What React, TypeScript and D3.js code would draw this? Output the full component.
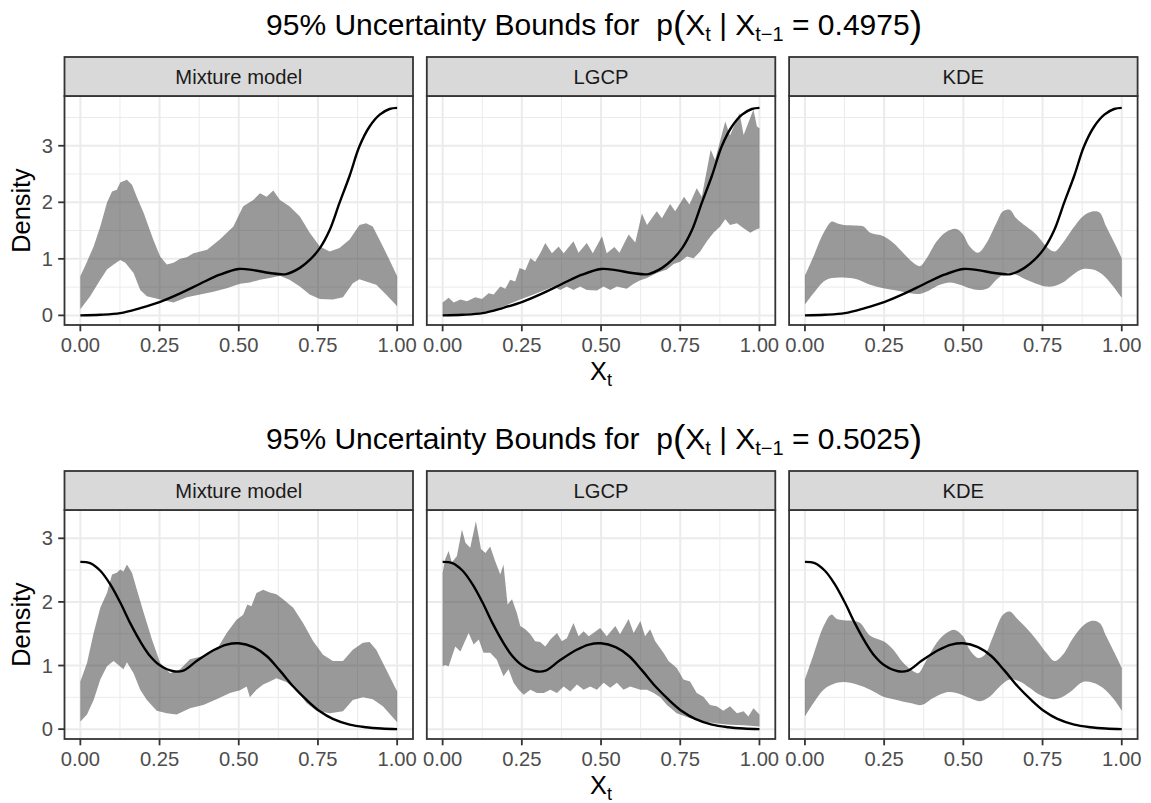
import React from 'react';
import * as d3 from 'd3';

type Pt = [number, number];

// ---------- labels & ticks ----------
const PANEL_NAMES = ['Mixture model', 'LGCP', 'KDE'];
const CONDITION_VALUES = ['0.4975', '0.5025'];
const X_TICKS = [0, 0.25, 0.5, 0.75, 1];
const X_TICK_LABELS = ['0.00', '0.25', '0.50', '0.75', '1.00'];
const X_MINOR = [0.125, 0.375, 0.625, 0.875];
const Y_TICKS = [0, 1, 2, 3];
const Y_TICK_LABELS = ['0', '1', '2', '3'];
const Y_MINOR = [0.5, 1.5, 2.5, 3.5];

// ---------- true conditional densities ----------
const TRUE_4975: Pt[] = [
  [0, 0], [0.063, 0.01], [0.126, 0.04], [0.189, 0.13], [0.252, 0.24], [0.315, 0.39],
  [0.378, 0.56], [0.44, 0.72], [0.5, 0.82], [0.546, 0.8], [0.598, 0.75], [0.65, 0.73],
  [0.693, 0.84], [0.724, 0.98], [0.756, 1.19], [0.787, 1.51], [0.818, 1.99], [0.85, 2.47],
  [0.881, 2.99], [0.913, 3.34], [0.945, 3.55], [0.976, 3.65], [1, 3.67],
];
const TRUE_5025: Pt[] = [
  [0, 2.63], [0.031, 2.61], [0.063, 2.49], [0.094, 2.28], [0.126, 1.99], [0.157, 1.67],
  [0.189, 1.38], [0.22, 1.15], [0.252, 1.0], [0.294, 0.91], [0.325, 0.92], [0.367, 1.07],
  [0.42, 1.24], [0.462, 1.33], [0.5, 1.35], [0.546, 1.29], [0.588, 1.15], [0.63, 0.92],
  [0.672, 0.67], [0.714, 0.46], [0.756, 0.28], [0.797, 0.16], [0.85, 0.07], [0.902, 0.03],
  [0.95, 0.01], [1, 0],
];

// ---------- 95% bounds, X_{t-1} = 0.4975 ----------
const MIX_4975_UPPER: Pt[] = [
  [0, 0.69], [0.021, 0.95], [0.042, 1.22], [0.063, 1.57], [0.084, 1.99], [0.1, 2.19],
  [0.115, 2.22], [0.126, 2.35], [0.147, 2.4], [0.163, 2.31], [0.178, 2.1], [0.2, 1.81],
  [0.23, 1.34], [0.252, 1.04], [0.273, 0.9], [0.294, 0.93], [0.315, 1.0], [0.336, 1.03],
  [0.357, 1.1], [0.4, 1.16], [0.44, 1.34], [0.483, 1.57], [0.514, 1.93], [0.546, 2.04],
  [0.567, 2.16], [0.588, 2.1], [0.609, 2.21], [0.63, 2.04], [0.66, 1.93], [0.693, 1.75],
  [0.724, 1.46], [0.756, 1.22], [0.787, 1.13], [0.818, 1.19], [0.85, 1.34], [0.881, 1.6],
  [0.902, 1.63], [0.923, 1.57], [0.955, 1.22], [0.98, 0.93], [1, 0.69],
];
const MIX_4975_LOWER: Pt[] = [
  [0, 0.11], [0.031, 0.34], [0.063, 0.63], [0.084, 0.81], [0.105, 0.9], [0.126, 0.98],
  [0.142, 0.93], [0.168, 0.75], [0.189, 0.45], [0.21, 0.34], [0.252, 0.28], [0.294, 0.23],
  [0.336, 0.32], [0.378, 0.37], [0.42, 0.42], [0.462, 0.48], [0.504, 0.56], [0.535, 0.58],
  [0.567, 0.63], [0.598, 0.66], [0.63, 0.7], [0.66, 0.63], [0.693, 0.51], [0.724, 0.37],
  [0.756, 0.29], [0.797, 0.28], [0.829, 0.32], [0.86, 0.57], [0.881, 0.64], [0.902, 0.6],
  [0.934, 0.54], [0.965, 0.37], [1, 0.16],
];
const LGCP_4975_UPPER: Pt[] = [
  [0, 0.23], [0.019, 0.31], [0.035, 0.23], [0.056, 0.28], [0.077, 0.25], [0.103, 0.32],
  [0.124, 0.29], [0.145, 0.39], [0.161, 0.37], [0.182, 0.51], [0.198, 0.47], [0.213, 0.63],
  [0.229, 0.6], [0.243, 0.84], [0.261, 0.8], [0.277, 1.01], [0.292, 0.95], [0.308, 1.1],
  [0.324, 1.28], [0.345, 1.1], [0.366, 1.22], [0.382, 1.1], [0.413, 1.31], [0.429, 1.11],
  [0.455, 1.28], [0.474, 1.1], [0.503, 1.4], [0.518, 1.1], [0.542, 1.21], [0.558, 1.11],
  [0.587, 1.43], [0.608, 1.29], [0.629, 1.8], [0.645, 1.6], [0.676, 1.84], [0.692, 1.72],
  [0.718, 1.97], [0.734, 1.84], [0.762, 2.1], [0.779, 1.96], [0.802, 2.25], [0.818, 2.1],
  [0.846, 2.93], [0.86, 2.75], [0.892, 3.43], [0.907, 3.18], [0.937, 3.58], [0.95, 3.19],
  [0.981, 3.64], [0.992, 3.34], [1, 3.31],
];
const LGCP_4975_LOWER: Pt[] = [
  [0, 0.01], [0.108, 0.04], [0.161, 0.09], [0.192, 0.16], [0.245, 0.28], [0.287, 0.37],
  [0.319, 0.44], [0.35, 0.51], [0.371, 0.45], [0.392, 0.51], [0.413, 0.45], [0.434, 0.51],
  [0.455, 0.45], [0.487, 0.44], [0.508, 0.51], [0.529, 0.45], [0.55, 0.51], [0.581, 0.47],
  [0.603, 0.56], [0.624, 0.62], [0.645, 0.66], [0.676, 0.75], [0.708, 0.81], [0.729, 0.91],
  [0.75, 0.95], [0.771, 1.04], [0.792, 1.01], [0.813, 1.13], [0.834, 1.31], [0.855, 1.46],
  [0.876, 1.57], [0.892, 1.7], [0.907, 1.6], [0.929, 1.63], [0.95, 1.54], [0.971, 1.46],
  [0.986, 1.51], [1, 1.54],
];
const KDE_4975_UPPER: Pt[] = [
  [0, 0.7], [0.027, 1.04], [0.059, 1.46], [0.085, 1.66], [0.101, 1.63], [0.122, 1.6],
  [0.164, 1.59], [0.185, 1.57], [0.206, 1.46], [0.248, 1.4], [0.279, 1.28], [0.311, 1.1],
  [0.342, 0.93], [0.363, 0.87], [0.384, 1.01], [0.416, 1.31], [0.447, 1.48], [0.478, 1.53],
  [0.499, 1.43], [0.52, 1.22], [0.547, 1.11], [0.573, 1.28], [0.604, 1.63], [0.625, 1.84],
  [0.646, 1.87], [0.667, 1.72], [0.699, 1.57], [0.73, 1.43], [0.762, 1.22], [0.788, 1.13],
  [0.814, 1.28], [0.846, 1.54], [0.877, 1.75], [0.909, 1.84], [0.93, 1.82], [0.951, 1.57],
  [0.977, 1.28], [1, 1.01],
];
const KDE_4975_LOWER: Pt[] = [
  [0, 0.19], [0.027, 0.39], [0.059, 0.6], [0.085, 0.66], [0.122, 0.67], [0.164, 0.64],
  [0.206, 0.54], [0.248, 0.48], [0.29, 0.44], [0.332, 0.39], [0.363, 0.38], [0.395, 0.45],
  [0.426, 0.54], [0.458, 0.58], [0.489, 0.54], [0.52, 0.48], [0.547, 0.45], [0.578, 0.48],
  [0.604, 0.63], [0.636, 0.75], [0.667, 0.72], [0.699, 0.63], [0.73, 0.56], [0.762, 0.51],
  [0.788, 0.52], [0.814, 0.58], [0.846, 0.72], [0.877, 0.82], [0.909, 0.81], [0.94, 0.72],
  [0.972, 0.52], [1, 0.31],
];

// ---------- 95% bounds, X_{t-1} = 0.5025 ----------
const MIX_5025_UPPER: Pt[] = [
  [0, 0.75], [0.021, 1.04], [0.042, 1.51], [0.063, 1.91], [0.084, 2.14], [0.1, 2.43],
  [0.115, 2.46], [0.126, 2.51], [0.136, 2.48], [0.147, 2.59], [0.163, 2.46], [0.178, 2.2],
  [0.2, 1.83], [0.226, 1.41], [0.252, 1.04], [0.283, 0.88], [0.315, 0.94], [0.346, 1.1],
  [0.388, 1.15], [0.43, 1.25], [0.462, 1.51], [0.493, 1.72], [0.514, 1.8], [0.527, 1.96],
  [0.54, 1.93], [0.556, 2.14], [0.577, 2.19], [0.598, 2.15], [0.619, 2.12], [0.64, 2.04],
  [0.672, 1.91], [0.703, 1.67], [0.735, 1.38], [0.766, 1.17], [0.797, 1.07], [0.829, 1.07],
  [0.86, 1.25], [0.892, 1.36], [0.913, 1.37], [0.934, 1.25], [0.965, 0.94], [1, 0.59],
];
const MIX_5025_LOWER: Pt[] = [
  [0, 0.12], [0.021, 0.23], [0.042, 0.46], [0.063, 0.78], [0.084, 0.99], [0.105, 1.07],
  [0.12, 1.01], [0.136, 0.94], [0.147, 1.05], [0.168, 0.88], [0.189, 0.62], [0.21, 0.46],
  [0.241, 0.29], [0.273, 0.25], [0.304, 0.23], [0.346, 0.33], [0.388, 0.38], [0.43, 0.47],
  [0.472, 0.57], [0.504, 0.61], [0.525, 0.67], [0.535, 0.5], [0.556, 0.62], [0.577, 0.7],
  [0.598, 0.75], [0.619, 0.8], [0.65, 0.74], [0.682, 0.62], [0.714, 0.41], [0.745, 0.29],
  [0.787, 0.25], [0.829, 0.28], [0.86, 0.46], [0.892, 0.5], [0.923, 0.47], [0.955, 0.36],
  [1, 0.11],
];
const LGCP_5025_UPPER: Pt[] = [
  [0, 2.46], [0.008, 2.67], [0.019, 2.8], [0.029, 2.62], [0.045, 2.72], [0.061, 3.14],
  [0.072, 2.93], [0.087, 2.85], [0.105, 3.27], [0.121, 2.83], [0.135, 2.77], [0.15, 2.87],
  [0.166, 2.64], [0.182, 2.43], [0.192, 2.59], [0.205, 1.96], [0.219, 2.04], [0.234, 1.83],
  [0.245, 1.62], [0.261, 1.57], [0.277, 1.49], [0.292, 1.38], [0.308, 1.37], [0.324, 1.3],
  [0.34, 1.41], [0.361, 1.51], [0.376, 1.38], [0.392, 1.43], [0.413, 1.67], [0.429, 1.46],
  [0.445, 1.54], [0.461, 1.46], [0.476, 1.51], [0.497, 1.59], [0.518, 1.46], [0.545, 1.62],
  [0.56, 1.49], [0.587, 1.73], [0.603, 1.51], [0.624, 1.7], [0.639, 1.46], [0.655, 1.57],
  [0.671, 1.38], [0.697, 1.2], [0.713, 1.07], [0.739, 0.96], [0.76, 0.78], [0.781, 0.75],
  [0.802, 0.57], [0.823, 0.51], [0.844, 0.38], [0.865, 0.36], [0.886, 0.29], [0.907, 0.36],
  [0.929, 0.25], [0.95, 0.28], [0.965, 0.2], [0.981, 0.33], [1, 0.23],
];
const LGCP_5025_LOWER: Pt[] = [
  [0, 0.99], [0.008, 1.01], [0.019, 0.99], [0.04, 1.3], [0.056, 1.22], [0.082, 1.51],
  [0.098, 1.33], [0.114, 1.41], [0.129, 1.2], [0.15, 1.2], [0.171, 1.09], [0.192, 0.83],
  [0.208, 0.94], [0.224, 0.73], [0.24, 0.62], [0.256, 0.54], [0.277, 0.62], [0.298, 0.57],
  [0.319, 0.57], [0.34, 0.62], [0.361, 0.57], [0.382, 0.67], [0.403, 0.59], [0.424, 0.7],
  [0.445, 0.62], [0.466, 0.67], [0.487, 0.62], [0.508, 0.73], [0.529, 0.65], [0.55, 0.73],
  [0.571, 0.62], [0.592, 0.67], [0.624, 0.62], [0.645, 0.62], [0.666, 0.57], [0.687, 0.5],
  [0.708, 0.38], [0.739, 0.25], [0.781, 0.17], [0.823, 0.12], [0.865, 0.09], [0.907, 0.07],
  [0.95, 0.06], [1, 0.04],
];
const KDE_5025_UPPER: Pt[] = [
  [0, 0.78], [0.027, 1.17], [0.059, 1.62], [0.083, 1.8], [0.101, 1.73], [0.122, 1.71],
  [0.153, 1.7], [0.174, 1.67], [0.206, 1.47], [0.248, 1.38], [0.279, 1.25], [0.311, 1.04],
  [0.342, 0.91], [0.358, 0.88], [0.384, 1.09], [0.416, 1.36], [0.447, 1.51], [0.473, 1.56],
  [0.499, 1.46], [0.52, 1.25], [0.547, 1.12], [0.568, 1.17], [0.594, 1.46], [0.625, 1.8],
  [0.646, 1.85], [0.673, 1.72], [0.699, 1.59], [0.73, 1.41], [0.762, 1.2], [0.788, 1.07],
  [0.814, 1.17], [0.846, 1.43], [0.877, 1.62], [0.903, 1.7], [0.93, 1.67], [0.951, 1.46],
  [0.977, 1.2], [1, 0.96],
];
const KDE_5025_LOWER: Pt[] = [
  [0, 0.2], [0.027, 0.41], [0.059, 0.62], [0.09, 0.71], [0.122, 0.74], [0.164, 0.7],
  [0.206, 0.62], [0.248, 0.51], [0.29, 0.46], [0.332, 0.41], [0.368, 0.38], [0.405, 0.49],
  [0.447, 0.58], [0.478, 0.57], [0.52, 0.49], [0.552, 0.44], [0.583, 0.51], [0.615, 0.67],
  [0.646, 0.78], [0.678, 0.75], [0.709, 0.65], [0.741, 0.54], [0.783, 0.47], [0.814, 0.51],
  [0.846, 0.62], [0.877, 0.74], [0.909, 0.73], [0.94, 0.65], [0.972, 0.49], [1, 0.29],
];

// ---------- layout ----------
const FONT = '"Liberation Sans", Arial, Helvetica, sans-serif';
const W = 1151;
const H = 803;
const PANEL_X0 = 64.5;
const PANEL_W = 348.5;
const PANEL_GAP = 13.8;
const STRIP_TOP = 57;
const STRIP_H = 39;
const PANEL_TOP = 96;
const PANEL_H = 229;
const ROW_SHIFT = 414;
const TICK_LEN = 6.3;
const TITLE_CX = 594;

interface RowSpec {
  condition: string;
  yDomain: [number, number];
  truth: Pt[];
  bands: { upper: Pt[]; lower: Pt[]; smooth: boolean }[];
}

const ROWS: RowSpec[] = [
  {
    condition: CONDITION_VALUES[0],
    yDomain: [-0.17, 3.88],
    truth: TRUE_4975,
    bands: [
      { upper: MIX_4975_UPPER, lower: MIX_4975_LOWER, smooth: false },
      { upper: LGCP_4975_UPPER, lower: LGCP_4975_LOWER, smooth: false },
      { upper: KDE_4975_UPPER, lower: KDE_4975_LOWER, smooth: true },
    ],
  },
  {
    condition: CONDITION_VALUES[1],
    yDomain: [-0.155, 3.445],
    truth: TRUE_5025,
    bands: [
      { upper: MIX_5025_UPPER, lower: MIX_5025_LOWER, smooth: false },
      { upper: LGCP_5025_UPPER, lower: LGCP_5025_LOWER, smooth: false },
      { upper: KDE_5025_UPPER, lower: KDE_5025_LOWER, smooth: true },
    ],
  },
];

function bandPath(
  upper: Pt[],
  lower: Pt[],
  x: d3.ScaleLinear<number, number>,
  y: d3.ScaleLinear<number, number>,
  smooth: boolean
): string {
  const line = d3
    .line<Pt>()
    .x((d) => x(d[0]))
    .y((d) => y(d[1]))
    .curve(smooth ? d3.curveCatmullRom.alpha(0.5) : d3.curveLinear);
  const top = line(upper) || '';
  const bottom = (line([...lower].reverse()) || '').replace(/^M/, 'L');
  return top + bottom + 'Z';
}

function Panel({ row, col, spec }: { row: number; col: number; spec: RowSpec }) {
  const dy = row * ROW_SHIFT;
  const left = PANEL_X0 + col * (PANEL_W + PANEL_GAP);
  const top = PANEL_TOP + dy;
  const x = d3.scaleLinear().domain([-0.05, 1.05]).range([left, left + PANEL_W]);
  const y = d3.scaleLinear().domain(spec.yDomain).range([top + PANEL_H, top]);
  const band = spec.bands[col];
  const truthLine = d3
    .line<Pt>()
    .x((d) => x(d[0]))
    .y((d) => y(d[1]))
    .curve(d3.curveCatmullRom.alpha(0.5));
  const clipId = `clip-${row}-${col}`;
  const yMinor = Y_MINOR.filter((v) => v > spec.yDomain[0] && v < spec.yDomain[1]);
  return (
    <g>
      <defs>
        <clipPath id={clipId}>
          <rect x={left} y={top} width={PANEL_W} height={PANEL_H} />
        </clipPath>
      </defs>
      <rect x={left} y={top} width={PANEL_W} height={PANEL_H} fill="#ffffff" />
      {/* grid */}
      {X_MINOR.map((v) => (
        <line key={'xm' + v} x1={x(v)} x2={x(v)} y1={top} y2={top + PANEL_H} stroke="#ebebeb" strokeWidth={1} />
      ))}
      {yMinor.map((v) => (
        <line key={'ym' + v} x1={left} x2={left + PANEL_W} y1={y(v)} y2={y(v)} stroke="#ebebeb" strokeWidth={1} />
      ))}
      {X_TICKS.map((v) => (
        <line key={'xM' + v} x1={x(v)} x2={x(v)} y1={top} y2={top + PANEL_H} stroke="#ebebeb" strokeWidth={2} />
      ))}
      {Y_TICKS.map((v) => (
        <line key={'yM' + v} x1={left} x2={left + PANEL_W} y1={y(v)} y2={y(v)} stroke="#ebebeb" strokeWidth={2} />
      ))}
      {/* ribbon and true density */}
      <g clipPath={`url(#${clipId})`}>
        <path d={bandPath(band.upper, band.lower, x, y, band.smooth)} fill="#333333" fillOpacity={0.5} stroke="none" />
        <path d={truthLine(spec.truth) || ''} fill="none" stroke="#000000" strokeWidth={2.4} />
      </g>
      <rect x={left} y={top} width={PANEL_W} height={PANEL_H} fill="none" stroke="#333333" strokeWidth={1.8} />
      {/* facet strip */}
      <rect
        x={left}
        y={STRIP_TOP + dy}
        width={PANEL_W}
        height={STRIP_H}
        fill="#d9d9d9"
        stroke="#333333"
        strokeWidth={1.8}
      />
      <text
        x={left + PANEL_W / 2}
        y={STRIP_TOP + dy + STRIP_H / 2}
        dy="0.35em"
        textAnchor="middle"
        fontSize={20.2}
        fill="#1a1a1a"
        fontFamily={FONT}
      >
        {PANEL_NAMES[col]}
      </text>
      {/* x axis */}
      {X_TICKS.map((v, i) => (
        <g key={'xt' + v}>
          <line
            x1={x(v)}
            x2={x(v)}
            y1={top + PANEL_H}
            y2={top + PANEL_H + TICK_LEN}
            stroke="#333333"
            strokeWidth={1.8}
          />
          <text
            x={x(v)}
            y={top + PANEL_H + 26.5}
            textAnchor="middle"
            fontSize={20.2}
            fill="#4d4d4d"
            fontFamily={FONT}
          >
            {X_TICK_LABELS[i]}
          </text>
        </g>
      ))}
      {/* y axis on the first column */}
      {col === 0 &&
        Y_TICKS.map((v, i) => (
          <g key={'yt' + v}>
            <line x1={left - TICK_LEN} x2={left} y1={y(v)} y2={y(v)} stroke="#333333" strokeWidth={1.8} />
            <text
              x={left - 11.5}
              y={y(v)}
              dy="0.35em"
              textAnchor="end"
              fontSize={20.2}
              fill="#4d4d4d"
              fontFamily={FONT}
            >
              {Y_TICK_LABELS[i]}
            </text>
          </g>
        ))}
    </g>
  );
}

function Row({ row, spec }: { row: number; spec: RowSpec }) {
  const dy = row * ROW_SHIFT;
  const plotLeft = PANEL_X0;
  const plotRight = PANEL_X0 + 3 * PANEL_W + 2 * PANEL_GAP;
  const cx = (plotLeft + plotRight) / 2;
  return (
    <g>
      <text
        x={TITLE_CX}
        y={35 + dy}
        textAnchor="middle"
        fontSize={30}
        fill="#000000"
        fontFamily={FONT}
        style={{ whiteSpace: 'pre' }}
      >
        {'95% Uncertainty Bounds for  p'}
        <tspan fontSize={37} dy={2}>(</tspan>
        <tspan dy={-2}>X</tspan>
        <tspan fontSize={20} dy={6}>t</tspan>
        <tspan dy={-6}>{' | X'}</tspan>
        <tspan fontSize={20} dy={6}>{'t\u22121'}</tspan>
        <tspan dy={-6}>{' = ' + spec.condition}</tspan>
        <tspan fontSize={37} dy={2}>)</tspan>
      </text>
      {[0, 1, 2].map((c) => (
        <Panel key={c} row={row} col={c} spec={spec} />
      ))}
      <text
        x={cx}
        y={380 + dy}
        textAnchor="middle"
        fontSize={25.3}
        fill="#000000"
        fontFamily={FONT}
      >
        X
        <tspan fontSize={18} dy={6}>t</tspan>
      </text>
      <text
        transform={`translate(29.6, ${PANEL_TOP + dy + PANEL_H / 2}) rotate(-90)`}
        textAnchor="middle"
        fontSize={25.3}
        fill="#000000"
        fontFamily={FONT}
      >
        Density
      </text>
    </g>
  );
}

export default function App() {
  return (
    <svg
      width={W}
      height={H}
      viewBox={`0 0 ${W} ${H}`}
      style={{ position: 'absolute', left: 0, top: 0, background: '#ffffff' }}
    >
      <rect x={0} y={0} width={W} height={H} fill="#ffffff" />
      {ROWS.map((spec, r) => (
        <Row key={r} row={r} spec={spec} />
      ))}
    </svg>
  );
}
